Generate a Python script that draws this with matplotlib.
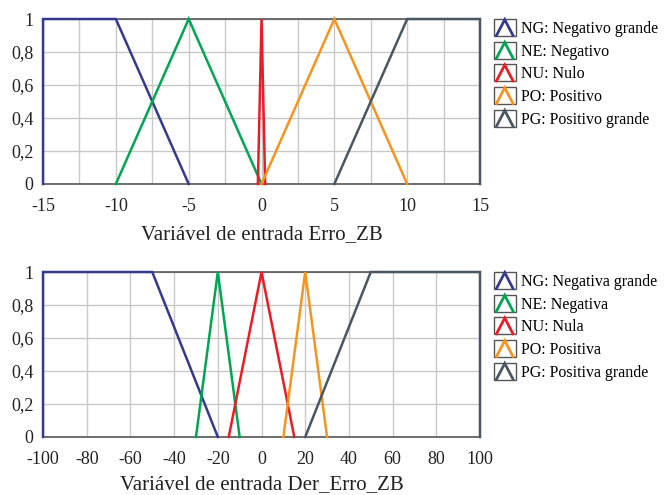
import matplotlib
matplotlib.use("Agg")
import matplotlib.pyplot as plt
from matplotlib.legend_handler import HandlerBase
from matplotlib.lines import Line2D
from matplotlib.patches import Rectangle
from matplotlib.ticker import MultipleLocator, FuncFormatter

plt.rcParams['font.family'] = ['Liberation Serif', 'DejaVu Serif']

# Membership functions for Erro_ZB (breakpoints x, membership y)
erro_labels = ["NG: Negativo grande", "NE: Negativo", "NU: Nulo", "PO: Positivo", "PG: Positivo grande"]
erro_x = [
    [-15, -15, -10, -5],
    [-10, -5, 0],
    [-0.25, 0, 0.25],
    [0, 5, 10],
    [5, 10, 15, 15],
]
erro_y = [
    [0, 1, 1, 0],
    [0, 1, 0],
    [0, 1, 0],
    [0, 1, 0],
    [0, 1, 1, 0],
]

# Membership functions for Der_Erro_ZB
der_labels = ["NG: Negativa grande", "NE: Negativa", "NU: Nula", "PO: Positiva", "PG: Positiva grande"]
der_x = [
    [-100, -100, -50, -20],
    [-30, -20, -10],
    [-15, 0, 15],
    [10, 20, 30],
    [20, 50, 100, 100],
]
der_y = [
    [0, 1, 1, 0],
    [0, 1, 0],
    [0, 1, 0],
    [0, 1, 0],
    [0, 1, 1, 0],
]

colors = ["#353a8f", "#00a651", "#ed1c24", "#f7941d", "#4a5661"]


class TriangleIconHandler(HandlerBase):
    """Legend key: a framed box holding a small triangle in the series colour."""
    def create_artists(self, legend, orig_handle, xdescent, ydescent,
                       width, height, fontsize, trans):
        x0, y0 = -xdescent, -ydescent
        box = Rectangle((x0, y0 - 1), width, height + 2, facecolor="white",
                        edgecolor="#555555", linewidth=1.0, transform=trans)
        tri = Line2D([x0 + 0.12 * width, x0 + 0.5 * width, x0 + 0.88 * width],
                     [y0 - 0.5, y0 + height + 0.5, y0 - 0.5],
                     color=orig_handle.get_color(), linewidth=2.0,
                     solid_joinstyle="miter", transform=trans)
        return [box, tri]


def comma_fmt(v, pos):
    if abs(v - round(v)) < 1e-9:
        return "%d" % round(v)
    return ("%g" % v).replace(".", ",")


def draw_panel(ax, xs, ys, labels, xlim, major, minor, xlabel, labelpad):
    handles = []
    for x, y, c, lab in zip(xs, ys, colors, labels):
        h, = ax.plot(x, y, color=c, linewidth=1.8, label=lab, clip_on=False,
                     solid_joinstyle="miter", zorder=3)
        handles.append(h)
    ax.set_xlim(*xlim)
    ax.set_ylim(0, 1)
    ax.xaxis.set_major_locator(MultipleLocator(major))
    ax.xaxis.set_minor_locator(MultipleLocator(minor))
    ax.yaxis.set_major_locator(MultipleLocator(0.2))
    ax.yaxis.set_major_formatter(FuncFormatter(comma_fmt))
    ax.xaxis.set_major_formatter(FuncFormatter(lambda v, p: "%d" % round(v)))
    ax.grid(True, which="both", color="#c8c8c8", linewidth=1.0)
    ax.set_axisbelow(True)
    for s in ax.spines.values():
        s.set_color("#555555")
        s.set_linewidth(1.2)
    ax.tick_params(axis="y", which="major", labelsize=13, length=0, pad=7,
                   colors="#222222")
    ax.tick_params(axis="x", which="major", labelsize=13, length=0, pad=10,
                   colors="#222222")
    ax.tick_params(axis="both", which="minor", length=0)
    ax.set_xlabel(xlabel, fontsize=15, color="#222222", labelpad=labelpad)
    ax.legend(handles=handles, handler_map={Line2D: TriangleIconHandler()},
              loc="upper left", bbox_to_anchor=(1.01, 1.05), frameon=False,
              fontsize=11.5, handlelength=1.35, handleheight=1.0,
              handletextpad=0.35, labelspacing=0.38, borderaxespad=0.2)


fig = plt.figure(figsize=(6.64, 4.95), dpi=100)
ax1 = fig.add_axes([0.0648, 0.6283, 0.6581, 0.3333])
ax2 = fig.add_axes([0.0648, 0.1172, 0.6581, 0.3333])

draw_panel(ax1, erro_x, erro_y, erro_labels, (-15, 15), 5, 2.5,
           "Variável de entrada Erro_ZB", 7)
draw_panel(ax2, der_x, der_y, der_labels, (-100, 100), 20, 20,
           "Variável de entrada Der_Erro_ZB", 5)

fig.savefig("out.png", dpi=100)
